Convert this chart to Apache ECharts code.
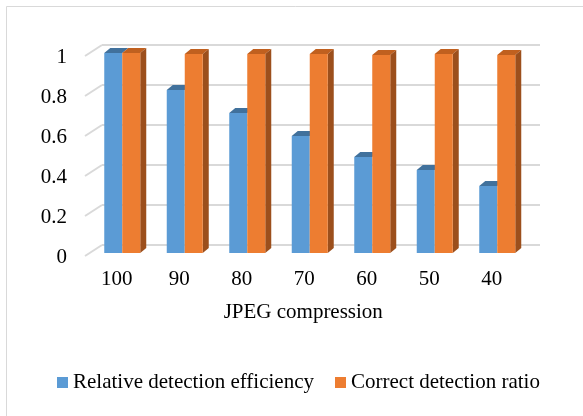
<!DOCTYPE html>
<html>
<head>
<meta charset="utf-8">
<script src="https://cdn.jsdelivr.net/npm/echarts@6/dist/echarts.min.js"></script>
<style>
html,body{margin:0;padding:0;background:#fff;}
#c{width:583px;height:416px;}
</style>
</head>
<body>
<div id="c"></div>
<script>
var categories = ['100', '90', '80', '70', '60', '50', '40'];
var relativeEfficiency = [1.0, 0.815, 0.70, 0.585, 0.48, 0.415, 0.335];
var correctRatio = [1.0, 0.995, 0.995, 0.995, 0.99, 0.995, 0.99];
var yTicks = [0, 0.2, 0.4, 0.6, 0.8, 1];
var seriesNames = ['Relative detection efficiency', 'Correct detection ratio'];

var FONT = '"Liberation Serif", "Times New Roman", serif';
var FS = 21;
var BLUE = '#5B9BD5', BLUE_TOP = '#41719C', BLUE_SIDE = '#41719C';
var ORANGE = '#ED7D31', ORANGE_TOP = '#C0601F', ORANGE_SIDE = '#9C4F1C';
var BAR_FRAC = 0.288;
var DX = 6, DY = 5;

function faces(which, topColor, sideColor, drawSide) {
  return function (params, api) {
    var idx = api.value(0), v = api.value(1);
    var p = api.coord([idx, v]);
    var p0 = api.coord([idx, 0]);
    var band = api.size([1, 0])[0];
    var w = band * BAR_FRAC;
    var x0 = which === 0 ? p[0] - w : p[0];
    var x1 = x0 + w;
    var y = p[1], yb = p0[1];
    var children = [{
      type: 'polygon',
      shape: { points: [[x0, y], [x0 + DX, y - DY], [x1 + DX, y - DY], [x1, y]] },
      style: { fill: topColor }
    }];
    if (drawSide) {
      children.push({
        type: 'polygon',
        shape: { points: [[x1, y], [x1 + DX, y - DY], [x1 + DX, yb - DY], [x1, yb]] },
        style: { fill: sideColor }
      });
    }
    return { type: 'group', children: children };
  };
}

var chart = echarts.init(document.getElementById('c'), null, { renderer: 'canvas' });
chart.setOption({
  backgroundColor: '#ffffff',
  animation: false,
  textStyle: { fontFamily: FONT },
  graphic: [{
    type: 'rect', shape: { x: 6.5, y: 6.5, width: 620, height: 440 },
    style: { fill: 'none', stroke: '#D9D9D9', lineWidth: 1 }, silent: true, z: 0
  }],
  grid: [
    { left: 91, right: 54.5, top: 53, height: 200 },   // bars
    { left: 102, right: 43, top: 45, height: 200 },    // back wall
    { left: 85, right: 43, top: 57, height: 200 }      // y labels
  ],
  legend: {
    left: 57, top: 372, padding: 0,
    itemWidth: 11, itemHeight: 11, itemGap: 21,
    icon: 'rect',
    textStyle: { fontFamily: FONT, fontSize: FS, color: '#000' },
    data: seriesNames
  },
  xAxis: [
    {
      gridIndex: 0, type: 'category', data: categories,
      axisLine: { show: false }, axisTick: { show: false },
      axisLabel: { fontFamily: FONT, fontSize: FS, color: '#000', margin: 16, padding: [0, 11, 0, 0] },
      name: 'JPEG compression', nameLocation: 'middle', nameGap: 49,
      nameTextStyle: { fontFamily: FONT, fontSize: FS, color: '#000', padding: [0, 13, 0, 0] }
    },
    { gridIndex: 1, type: 'value', min: 0, max: 1, show: false },
    { gridIndex: 2, type: 'value', min: 0, max: 1, show: false }
  ],
  yAxis: [
    { gridIndex: 0, type: 'value', min: 0, max: 1, show: false },
    {
      gridIndex: 1, type: 'value', min: 0, max: 1, interval: 0.2,
      axisLine: { show: false }, axisTick: { show: false }, axisLabel: { show: false },
      splitLine: { show: true, lineStyle: { color: '#D9D9D9', width: 2 } }
    },
    {
      gridIndex: 2, type: 'value', min: 0, max: 1, interval: 0.2,
      axisLine: { show: false }, axisTick: { show: false }, splitLine: { show: false },
      axisLabel: { fontFamily: FONT, fontSize: FS, color: '#000', margin: 18 }
    }
  ],
  series: [
    {
      type: 'custom', xAxisIndex: 1, yAxisIndex: 1, silent: true, z: 1,
      data: yTicks.map(function (t) { return [0, t]; }),
      renderItem: function (params, api) {
        var p = api.coord([0, api.value(1)]);
        return {
          type: 'line',
          shape: { x1: p[0], y1: p[1], x2: p[0] - 17, y2: p[1] + 11 },
          style: { stroke: '#D9D9D9', lineWidth: 2 }
        };
      }
    },
    {
      name: seriesNames[0], type: 'bar', xAxisIndex: 0, yAxisIndex: 0,
      data: relativeEfficiency, barWidth: (BAR_FRAC * 100) + '%', barGap: '0%',
      itemStyle: { color: BLUE }, z: 3
    },
    {
      name: seriesNames[1], type: 'bar', xAxisIndex: 0, yAxisIndex: 0,
      data: correctRatio, barWidth: (BAR_FRAC * 100) + '%', barGap: '0%',
      itemStyle: { color: ORANGE }, z: 5
    },
    {
      type: 'custom', xAxisIndex: 0, yAxisIndex: 0, silent: true, z: 2,
      data: relativeEfficiency.map(function (v, i) { return [i, v]; }),
      renderItem: faces(0, BLUE_TOP, BLUE_SIDE, false)
    },
    {
      type: 'custom', xAxisIndex: 0, yAxisIndex: 0, silent: true, z: 4,
      data: correctRatio.map(function (v, i) { return [i, v]; }),
      renderItem: faces(1, ORANGE_TOP, ORANGE_SIDE, true)
    }
  ]
});
</script>
</body>
</html>
